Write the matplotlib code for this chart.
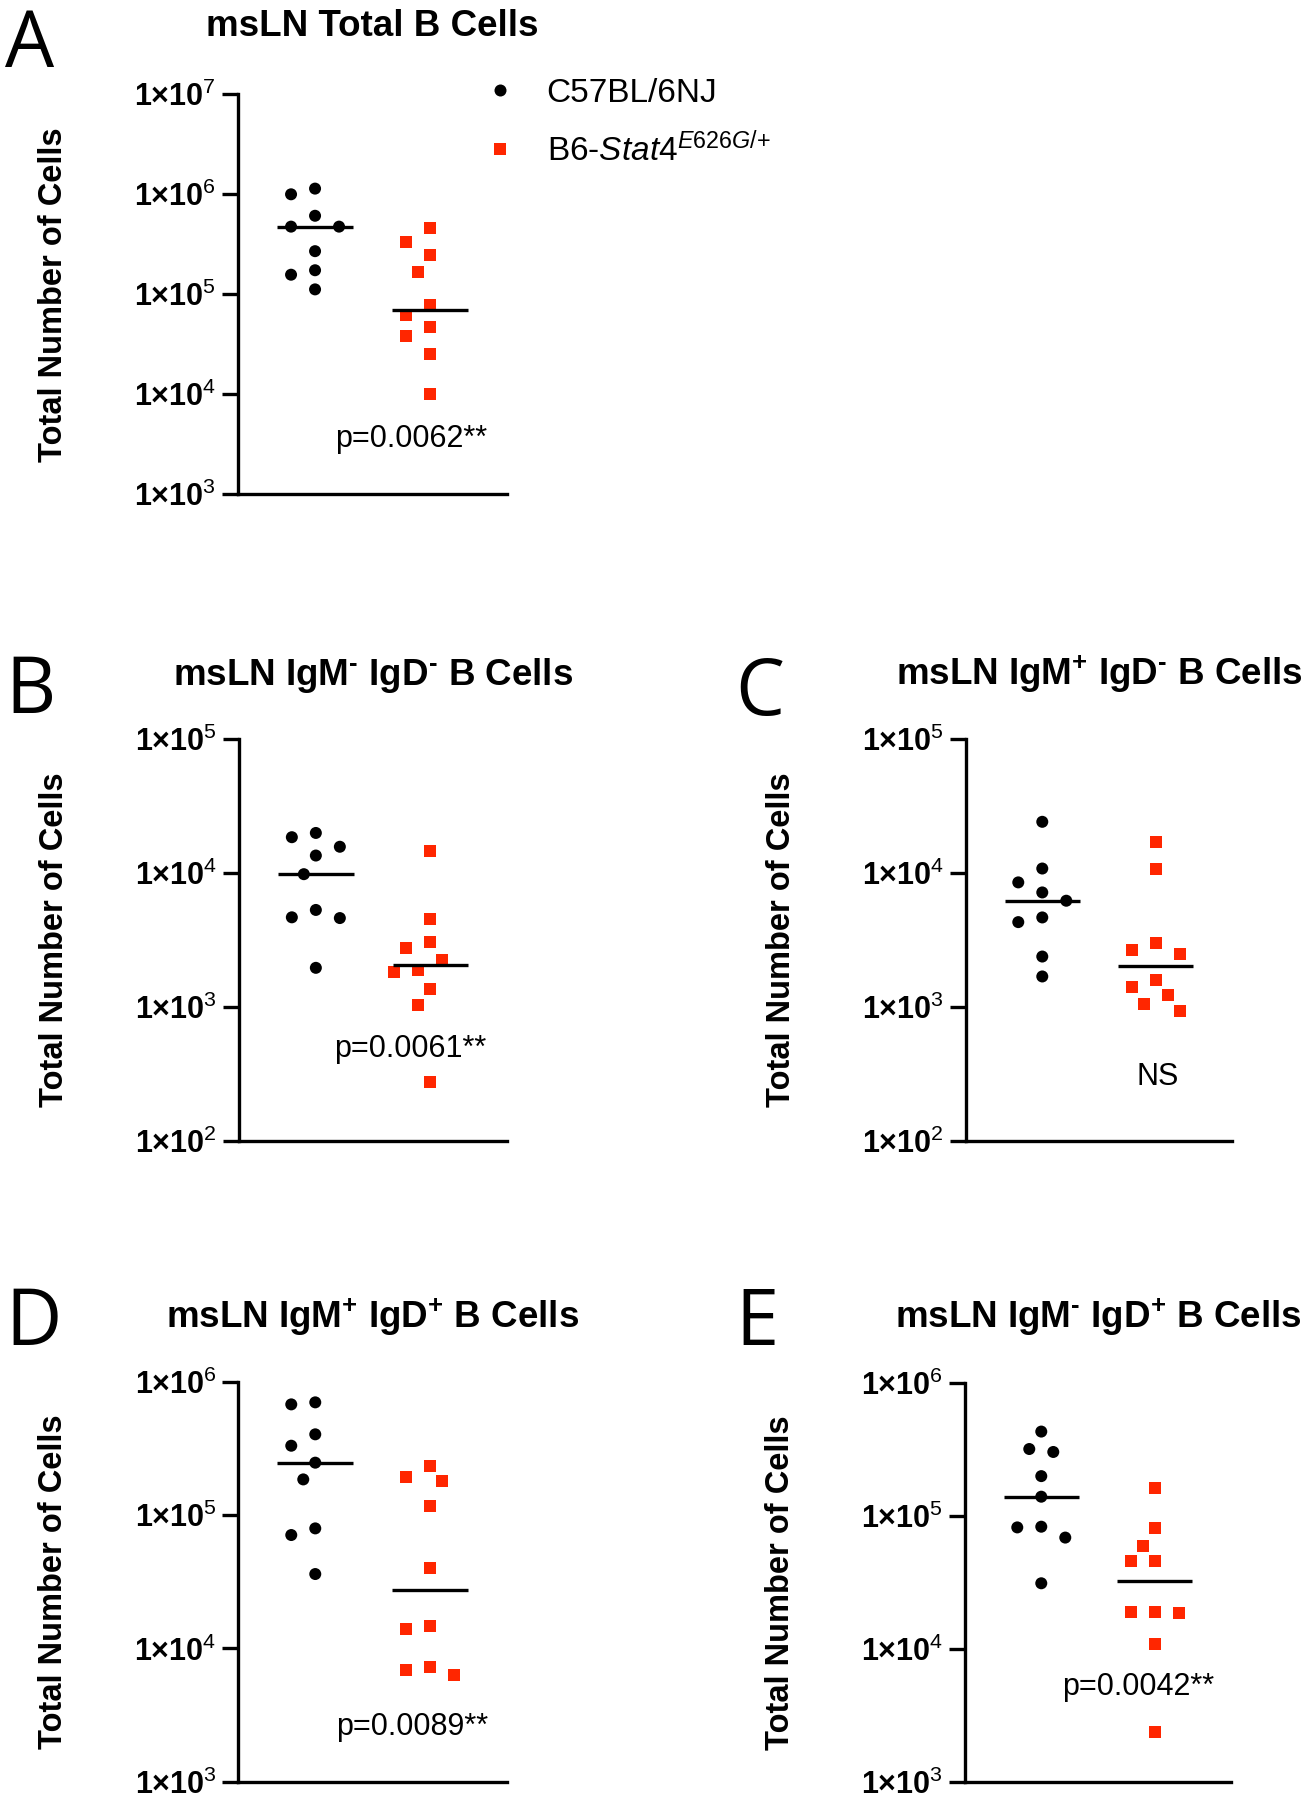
import numpy as np
import matplotlib
matplotlib.use("Agg")
import matplotlib.pyplot as plt
from matplotlib.lines import Line2D

plt.rcParams['font.family'] = ['Liberation Sans', 'DejaVu Sans']
plt.rcParams['mathtext.fontset'] = 'custom'
plt.rcParams['mathtext.rm'] = 'Liberation Sans'
plt.rcParams['mathtext.it'] = 'Liberation Sans:italic'
plt.rcParams['mathtext.bf'] = 'Liberation Sans:bold'
plt.rcParams['mathtext.sf'] = 'Liberation Sans'

# ---------------- data ----------------
group_labels = ['C57BL/6NJ', r'B6-$\mathit{Stat4}^{\mathit{E626G/{+}}}$']
panel_letters = ['A', 'B', 'C', 'D', 'E']
panel_titles = [
    'msLN Total B Cells',
    'msLN IgM$^{\\mathbf{\u2010}}$ IgD$^{\\mathbf{\u2010}}$ B Cells',
    'msLN IgM$^{\\mathbf{+}}$ IgD$^{\\mathbf{\u2010}}$ B Cells',
    'msLN IgM$^{\\mathbf{+}}$ IgD$^{\\mathbf{+}}$ B Cells',
    'msLN IgM$^{\\mathbf{\u2010}}$ IgD$^{\\mathbf{+}}$ B Cells',
]
stat_labels = ['p=0.0062**', 'p=0.0061**', 'NS', 'p=0.0089**', 'p=0.0042**']
y_label = 'Total Number of Cells'
decade_ranges = [(3, 7), (2, 5), (2, 5), (3, 6), (3, 6)]

wt_A = [1.14e6, 1.0e6, 6.1e5, 4.75e5, 4.75e5, 2.7e5, 1.74e5, 1.57e5, 1.12e5]
mut_A = [4.6e5, 3.3e5, 2.5e5, 1.67e5, 7.8e4, 6.2e4, 4.7e4, 3.85e4, 2.55e4, 1.0e4]
wt_B = [1.99e4, 1.85e4, 1.57e4, 1.35e4, 9.8e3, 5.3e3, 4.67e3, 4.61e3, 1.96e3]
mut_B = [1.47e4, 4.56e3, 3.05e3, 2.75e3, 2.23e3, 1.88e3, 1.83e3, 1.37e3, 1.03e3, 275]
wt_C = [2.41e4, 1.08e4, 8.51e3, 7.16e3, 6.21e3, 4.66e3, 4.3e3, 2.38e3, 1.69e3]
mut_C = [1.70e4, 1.08e4, 2.99e3, 2.65e3, 2.49e3, 1.59e3, 1.42e3, 1.23e3, 1.06e3, 929]
wt_D = [7.0e5, 6.76e5, 4.03e5, 3.31e5, 2.47e5, 1.85e5, 7.94e4, 7.08e4, 3.61e4]
mut_D = [2.34e5, 1.92e5, 1.80e5, 1.16e5, 3.98e4, 1.47e4, 1.39e4, 7.29e3, 6.88e3, 6.27e3]
wt_E = [4.33e5, 3.2e5, 3.04e5, 2.0e5, 1.40e5, 8.32e4, 8.22e4, 6.89e4, 3.12e4]
mut_E = [1.62e5, 8.09e4, 5.98e4, 4.59e4, 4.59e4, 1.90e4, 1.87e4, 1.90e4, 1.09e4, 2.38e3]

wt_sets = [wt_A, wt_B, wt_C, wt_D, wt_E]
mut_sets = [mut_A, mut_B, mut_C, mut_D, mut_E]

# ---------------- layout (pixels) ----------------
W, H = 1315, 1800
boxes = [  # left, right, top, bottom
    (238, 506.7, 94.3, 494.3),
    (239, 507, 739, 1141),
    (966, 1232, 739, 1141),
    (238.3, 506.7, 1381.7, 1781.7),
    (965, 1231, 1383.3, 1781.7),
]
title_base = [36, 685, 685, 1328, 1328]
letter_pos = [(5, 67), (5, 713), (735, 715), (5, 1345), (735, 1345)]
stat_pos = [(173, 446.7), (171, 1056.7), (192, 1085), (174, 1735), (173, 1695)]

BLACK = '#000000'
RED = '#FF2600'
LW = 2.4
MS = 8.64  # marker size in points (~12 px)
STEP = 12.0
GAP = 19.0

fig = plt.figure(figsize=(W / 100, H / 100), dpi=100)


def fx(p):
    return p / W


def fy(p):
    return 1 - p / H


def swarm(yp, step, gap):
    order = np.argsort(-yp)
    placed = []
    offs = np.zeros(len(yp))
    cands = [0.0]
    for j in range(1, 12):
        cands += [-j * step, j * step]
    for i in order:
        for c in cands:
            if all((c - px) ** 2 + (yp[i] - py) ** 2 >= gap ** 2 for px, py in placed):
                break
        offs[i] = c
        placed.append((c, yp[i]))
    return offs


for k in range(5):
    l, r, t, b = boxes[k]
    ax = fig.add_axes([fx(l), fy(b), (r - l) / W, (b - t) / H])
    lo, hi = decade_ranges[k]
    ax.set_yscale('log')
    ax.set_ylim(10 ** lo, 10 ** hi)
    ax.set_xlim(0.329, 2.669)
    ax.set_yticks([10.0 ** e for e in range(lo, hi + 1)])
    ax.set_yticklabels([r'$\mathbf{1{\times}10}^{\mathregular{%d}}$' % e for e in range(lo, hi + 1)])
    ax.yaxis.set_minor_locator(matplotlib.ticker.NullLocator())
    ax.set_xticks([])
    for s in ['top', 'right']:
        ax.spines[s].set_visible(False)
    for s in ['left', 'bottom']:
        ax.spines[s].set_linewidth(LW)
    ax.tick_params(axis='y', length=11.3, width=LW, pad=4.3, labelsize=22)
    ax.patch.set_alpha(0)

    fig.canvas.draw()
    px_per_unit = ax.transData.transform((2, 10 ** lo))[0] - ax.transData.transform((1, 10 ** lo))[0]
    for gi, (vals, col, mk) in enumerate([(wt_sets[k], BLACK, 'o'), (mut_sets[k], RED, 's')]):
        vals = np.asarray(vals, dtype=float)
        c = gi + 1
        yp = ax.transData.transform(np.column_stack([np.full(len(vals), c), vals]))[:, 1]
        offs = swarm(yp, STEP, GAP) / px_per_unit
        ax.scatter(c + offs, vals, s=MS ** 2, marker=mk, color=col, edgecolors='none',
                   zorder=2, clip_on=False)
        med = np.median(vals)
        ax.hlines(med, c - 0.33, c + 0.33, colors=BLACK, linewidth=LW, zorder=3)

    # title
    fig.text(fx((l + r) / 2), fy(title_base[k]), panel_titles[k], ha='center', va='baseline',
             fontsize=26.5, fontweight='bold')
    # panel letter
    lx, ly = letter_pos[k]
    fig.text(fx(lx), fy(ly), panel_letters[k], ha='left', va='baseline',
             fontsize=56, family=['Open Sans', 'DejaVu Sans'])
    # y label
    fig.text(fx(l - 184.5), fy((t + b) / 2), y_label, rotation=90, ha='center', va='center',
             fontsize=23.5, fontweight='bold')
    # stat text
    sx, sy = stat_pos[k]
    fig.text(fx(l + sx), fy(sy), stat_labels[k], ha='center', va='baseline', fontsize=22)

handles = [Line2D([], [], linestyle='none', marker='o', markersize=MS, color=BLACK, markeredgewidth=0),
           Line2D([], [], linestyle='none', marker='s', markersize=MS, color=RED, markeredgewidth=0)]
fig.legend(handles, group_labels, loc='upper left', bbox_to_anchor=(fx(483.3), fy(78)),
           frameon=False, borderpad=0, borderaxespad=0, handlelength=1.0, handletextpad=0.9,
           labelspacing=0.68, fontsize=24)

fig.savefig('out.png', dpi=100)
